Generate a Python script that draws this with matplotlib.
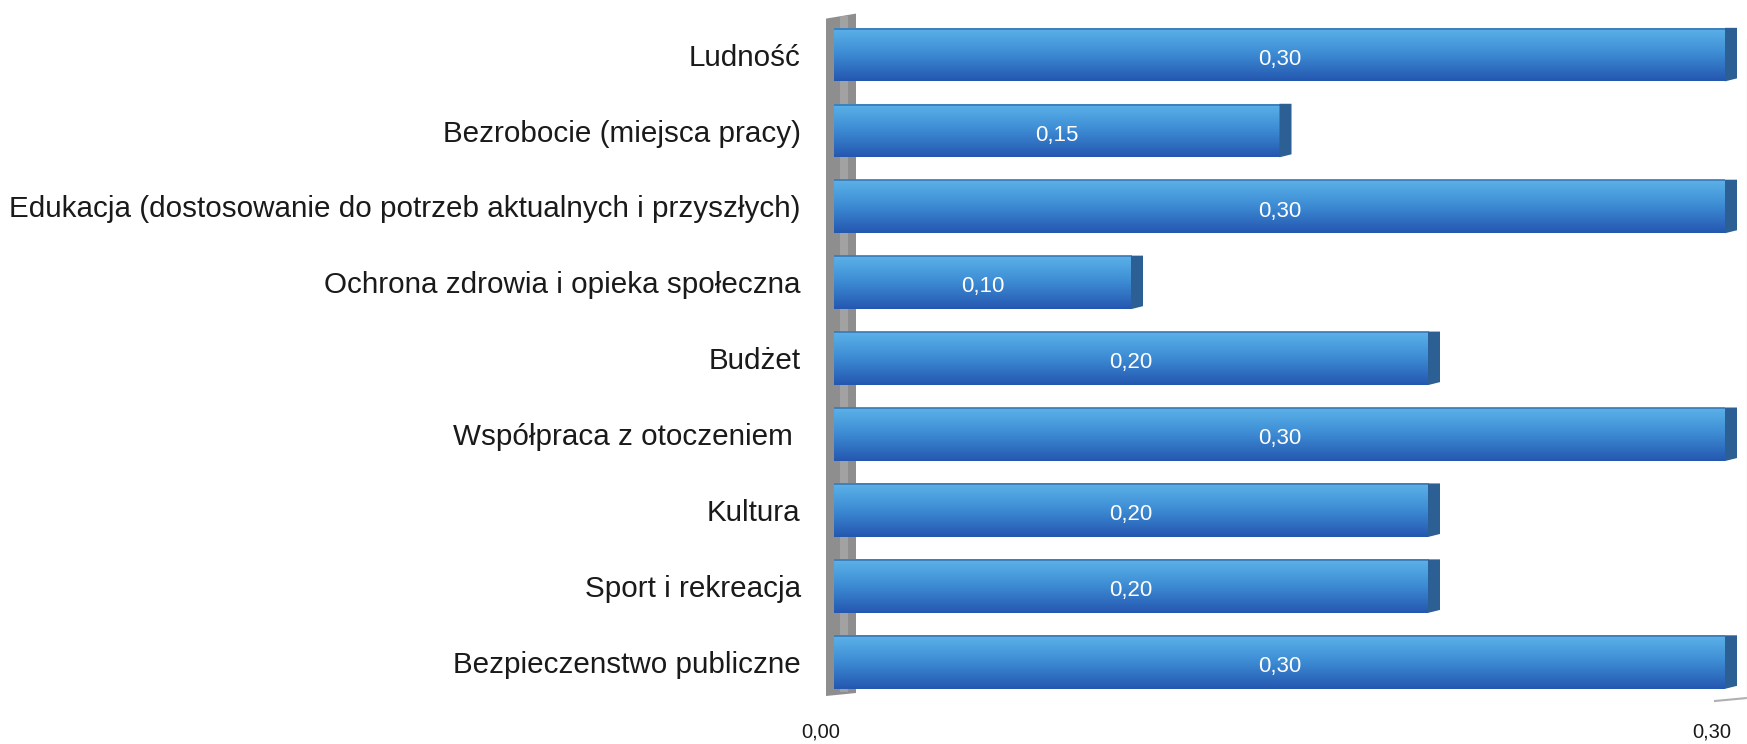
import numpy as np
import matplotlib
matplotlib.use("Agg")
import matplotlib.pyplot as plt
from matplotlib.colors import LinearSegmentedColormap
from matplotlib.patches import Rectangle, Polygon

categories = [
    "Ludność",
    "Bezrobocie (miejsca pracy)",
    "Edukacja (dostosowanie do potrzeb aktualnych i przyszłych)",
    "Ochrona zdrowia i opieka społeczna",
    "Budżet",
    "Współpraca z otoczeniem ",
    "Kultura",
    "Sport i rekreacja",
    "Bezpieczenstwo publiczne",
]
values = [0.30, 0.15, 0.30, 0.10, 0.20, 0.30, 0.20, 0.20, 0.30]
value_labels = ["0,30", "0,15", "0,30", "0,10", "0,20", "0,30", "0,20", "0,20", "0,30"]
xticks = [0.0, 0.30]
xtick_labels = ["0,00", "0,30"]

W, H = 1747, 744
fig = plt.figure(figsize=(W / 100, H / 100), dpi=100)
fig.patch.set_facecolor("white")

left_px, right_px = 834, 1725
top_px, bot_px = 13.6, 697
ax = fig.add_axes([left_px / W, 1 - bot_px / H, (right_px - left_px) / W, (bot_px - top_px) / H])
ax.set_xlim(0, 0.30)
ax.set_ylim(8.46, -0.54)
for s in ax.spines.values():
    s.set_visible(False)
ax.set_facecolor("none")

font = ["Liberation Sans", "DejaVu Sans"]

px_per_x = (right_px - left_px) / 0.30
px_per_y = (bot_px - top_px) / 9.0
dx = lambda p: p / px_per_x
dy = lambda p: p / px_per_y

# gray back wall
wall = Polygon([(dx(-8), 8.46 - dy(1)), (dx(22), 8.46 - dy(4)), (dx(22), -0.54),
                (dx(-8), -0.54 + dy(5))],
               closed=True, facecolor="#8e8e8e", edgecolor="none", zorder=1, clip_on=False)
ax.add_patch(wall)
stripe = Rectangle((dx(6), -0.54 + dy(2)), dx(8), 9.0 - dy(7), facecolor="#a2a2a2",
                   edgecolor="none", zorder=1, clip_on=False)
ax.add_patch(stripe)
# floor line and right edge
ax.plot([0.30 + dx(-10), 0.30 + dx(22)], [8.46 + dy(4), 8.46 + dy(1)], color="#b0b0b0",
        lw=1.5, clip_on=False, zorder=1)
ax.plot([0.30 + dx(22), 0.30 + dx(22)], [-0.54 + dy(25), 8.46 + dy(1)], color="#e6e6e6",
        lw=1, clip_on=False, zorder=1)

cmap = LinearSegmentedColormap.from_list(
    "bar", [(0.0, "#5db3e8"), (0.45, "#3f8fd6"), (1.0, "#2457b0")])
grad = np.linspace(0, 1, 256).reshape(-1, 1)

bar_h = 0.705
bars = ax.barh(range(len(values)), values, height=bar_h, color="#3f8fd6",
               edgecolor="none", zorder=2)
for i, (b, v) in enumerate(zip(bars, values)):
    y0 = i - bar_h / 2
    im = ax.imshow(grad, aspect="auto", cmap=cmap, extent=(0, v, i + bar_h / 2, y0),
                   origin="upper", zorder=3)
    im.set_clip_path(b)
    ax.plot([0, v], [y0 + 0.01, y0 + 0.01], color="#3a78b8", lw=1.2, zorder=4)
    cap = Polygon([(v, y0), (v + dx(12), y0), (v + dx(12), i + bar_h / 2 - dy(3)),
                   (v, i + bar_h / 2)], closed=True, facecolor="#2c5f93",
                  edgecolor="none", zorder=4, clip_on=False)
    ax.add_patch(cap)
    ax.text(v / 2, i + 0.06, value_labels[i], color="white", ha="center", va="center",
            fontsize=16, family=font, zorder=5)

ax.set_yticks(range(len(categories)))
ax.set_yticklabels(categories, fontsize=21.3, family=font, color="#1a1a1a")
ax.tick_params(axis="y", length=0, pad=24)
ax.set_xticks([])
for xv, lab in zip(xticks, xtick_labels):
    ax.text(xv - dx(13), 8.46 + dy(35), lab, ha="center", va="center", fontsize=14.5,
            family=font, color="#1a1a1a", clip_on=False)

fig.savefig("out.png", dpi=100, facecolor="white")
